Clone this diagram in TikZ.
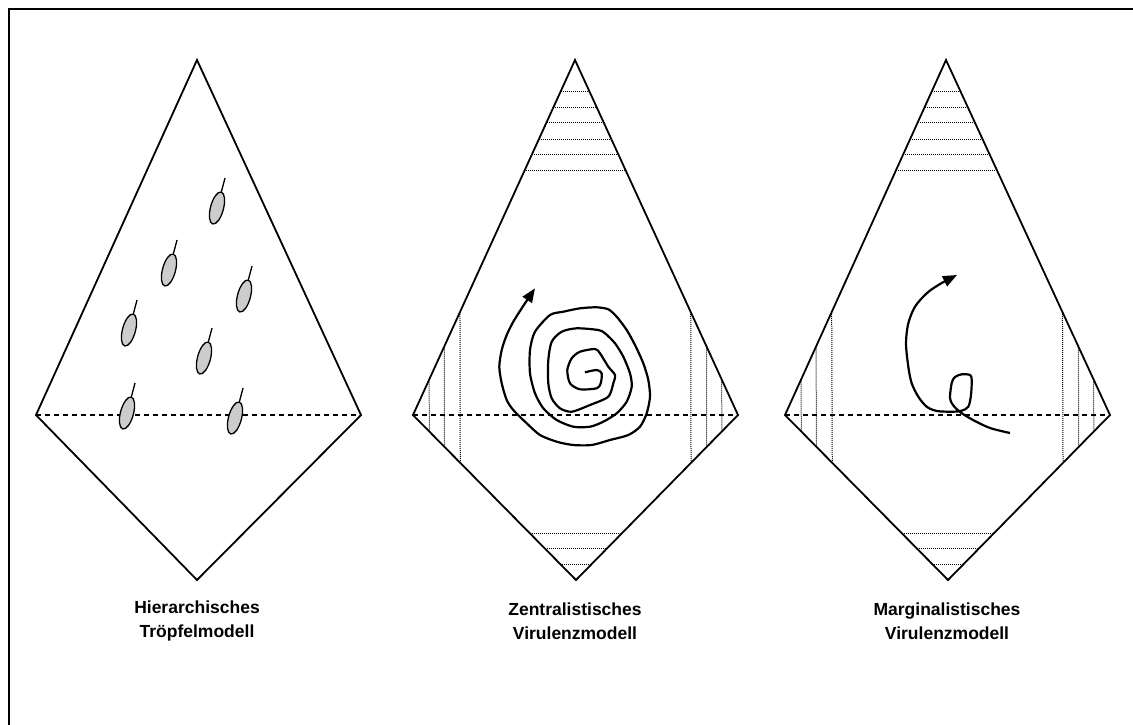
\documentclass[tikz,border=0pt]{standalone}
\usepackage{fontspec}
\setmainfont{Liberation Sans}
\usetikzlibrary{arrows.meta,positioning,calc}

\begin{document}
\begin{tikzpicture}[x=1pt, y=-1pt,
  rim/.style={line width=1.8pt, line join=miter},
  mid/.style={line width=1.2pt, dash pattern=on 5pt off 4pt},
  hatch/.style={line width=1pt, dash pattern=on 1pt off 1pt},
  drop/.style={line width=1.3pt, fill=black!20},
  curl/.style={line width=2.2pt, line join=round, -{Triangle[length=14pt,width=11pt]}},
  lab/.style={font=\bfseries\fontsize{17.5}{24.5}\selectfont, align=center}]
\useasboundingbox (0,0) rectangle (1133,724);
% Frame
\draw[line width=2pt] (9,9) rectangle (1145,740);
% Corners of the three diamonds
\coordinate (t1) at (197,60);  \coordinate (l1) at (36,415);  \coordinate (r1) at (361,415);  \coordinate (b1) at (197,580);
\coordinate (t2) at (575,60);  \coordinate (l2) at (413,415); \coordinate (r2) at (738,415);  \coordinate (b2) at (576,580);
\coordinate (t3) at (946,60);  \coordinate (l3) at (785,415); \coordinate (r3) at (1110,415); \coordinate (b3) at (948,580);
% Diamonds
\foreach \i in {1,2,3} {
  \draw[rim] (t\i) -- (r\i) -- (b\i) -- (l\i) -- cycle;
  \draw[mid] (l\i) -- (r\i);
}
% Hatching
\foreach \i in {2,3} {
  \foreach \f in {0.089,0.133,0.175,0.223,0.267,0.312}
    \draw[hatch] ($(t\i)!\f!(l\i)$) -- ($(t\i)!\f!(r\i)$);
  \foreach \f in {0.1,0.193,0.29} {
    \draw[hatch] ($(l\i)!\f!(t\i)$) -- ($(l\i)!\f!(b\i)$);
    \draw[hatch] ($(r\i)!\f!(t\i)$) -- ($(r\i)!\f!(b\i)$);
  }
  \foreach \f in {0.097,0.192,0.283}
    \draw[hatch] ($(b\i)!\f!(l\i)$) -- ($(b\i)!\f!(r\i)$);
}
% Droplets
\foreach \px/\py in {217/208,169/270,244/296,129/330,204/358,127/413,235/418}
  \draw[drop, shift={(\px,\py)}, rotate=-15] (0,0) ellipse [x radius=6.5, y radius=16.5] (0,-16.5) -- (0,-31);
% Spiral
\draw[curl] plot[smooth, tension=0.45] coordinates {(585,372.3) (596.7,370) (601.7,373.3) (600.7,383.3) (596.7,388.3)
  (580,389.3) (570,383.3) (567.3,370) (571.7,358.3) (580,351.7) (595,349) (600,353.3) (608.3,366.7) (615,375)
  (613.3,383.3) (608.3,396.7) (590,405) (571.7,411.7) (560,408.3) (551.7,398.3) (548.3,383.3) (548.3,360)
  (551.7,341.7) (561.7,331.7) (576.7,328.3) (598.3,330) (605,333.3) (615,343.3) (623.3,356.7) (630,373.3)
  (631.7,386.7) (626.7,401.7) (616.7,413.3) (603.3,421.7) (590,426.7) (573.3,426.7) (556.7,420) (543.3,408.3)
  (535,393.3) (530,373.3) (530,350) (535,331.7) (550,315) (563.3,311.7) (580,308.3) (596.7,307.3) (608.3,309.3)
  (616.7,316.7) (626.7,330) (635,345) (643.3,363.3) (648.3,380) (650,396.7) (646.7,413.3) (640,426.7)
  (628.3,435) (610,440) (591.7,445) (573.3,445) (556.7,441.7) (540,435) (526.7,423.3) (513.3,410)
  (506.7,400) (501.7,383.3) (499.3,366.7) (501.7,350) (506.7,335) (513.3,321.7) (521.7,308.3) (535,288.3)};
% Loop
\draw[curl] plot[smooth, tension=0.5] coordinates {(1010,433) (990,428) (973,420) (960,412) (953,405) (950,398)
  (951.7,383) (955,377) (961.7,374.3) (970,375) (971.7,380) (971,395) (968.3,406.7) (961.7,410.7) (953.3,411.7)
  (936.7,411) (926.7,406.7) (918.3,396.7) (911.7,383.3) (908.3,366.7) (906,343.3) (908.3,323.3) (915,306.7)
  (926.7,293.3) (940,284) (957,275)};
% Labels
\node[lab] (lab1) at (197,621) {Hierarchisches\\Tröpfelmodell};
\node[lab] (lab2) at (575,621) {Zentralistisches\\Virulenzmodell};
\node[lab] (lab3) at (947,621) {Marginalistisches\\Virulenzmodell};
\end{tikzpicture}
\end{document}
